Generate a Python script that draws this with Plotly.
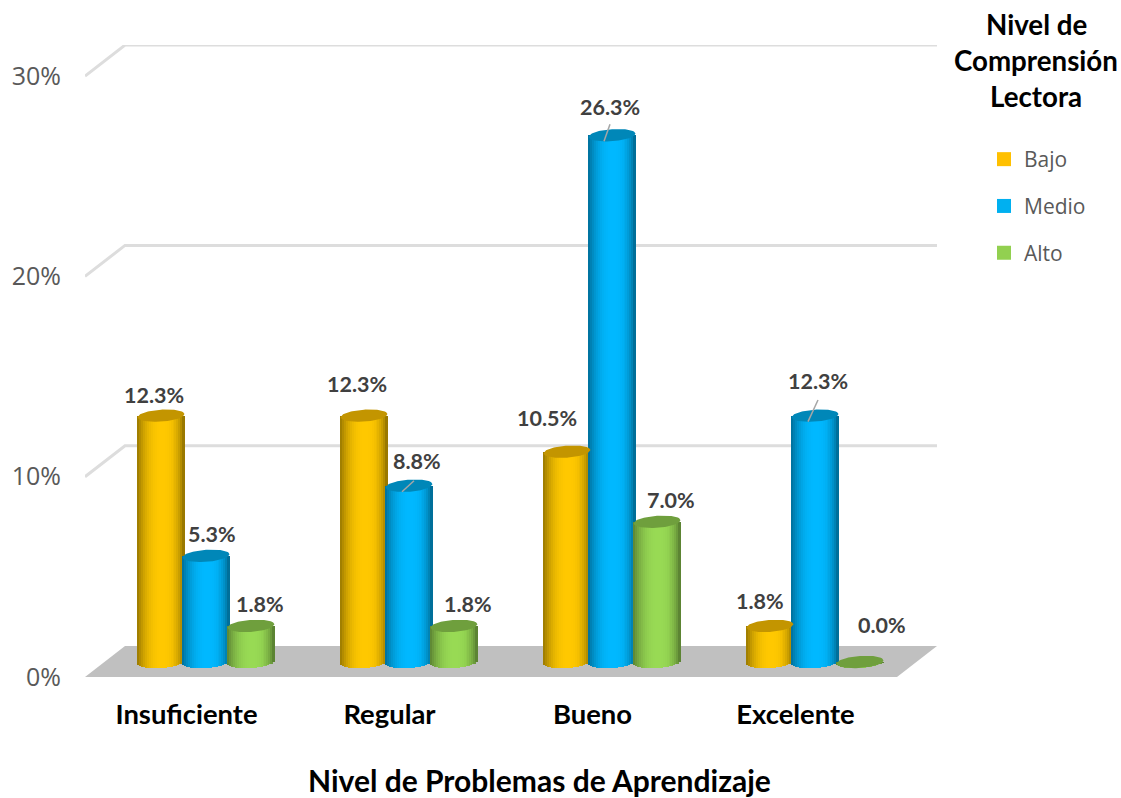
import plotly.graph_objects as go

categories = ["Insuficiente", "Regular", "Bueno", "Excelente"]
series_names = ["Bajo", "Medio", "Alto"]
bajo = [12.3, 12.3, 10.5, 1.8]
medio = [5.3, 8.8, 26.3, 12.3]
alto = [1.8, 1.8, 7.0, 0.0]
y_ticks = [0, 10, 20, 30]
y_tick_labels = ["0%", "10%", "20%", "30%"]

series_values = [bajo, medio, alto]
bright = [(255, 200, 0), (0, 184, 255), (152, 218, 84)]
top_colors = ["#C39500", "#0087B8", "#6F9F3D"]
legend_colors = ["#FFC000", "#00B0F0", "#92D050"]

W, H = 1121, 798
L, R, T, B = 85, 937, 45, 677
PX_X = 203.0
PX_Y = 20.03
DX = 40 / PX_X
DY = 31 / PX_Y
BASE = 15 / PX_Y
GROUP_SHIFT = 19.5 / PX_X
SERIES_STEP = 45 / PX_X
HALF_W = 23.5 / PX_X
RY = 6 / PX_Y
TILT = 1.6 / PX_Y
N = 24

# label offsets from the top of each cylinder, px (right, up)
label_shift = [
    [(-7, 21), (-7, 32), (-20, 34), (-10, 25)],
    [(6, 22), (8, 25), (-2, 28), (3, 35)],
    [(9, 22), (14, 22), (14, 22), (22, 37)],
]
# leader lines: (series, category, start px, end px) relative to the cylinder top
leaders = [
    (1, 1, (5, 5), (-7, -6)),
    (1, 2, (-2, 11), (-8, -6)),
    (1, 3, (3, 15.6), (-7, -6)),
]


def paper_x(px):
    return (px - L) / (R - L)


def paper_y(py):
    return (B - py) / (B - T)


def shade(rgb, u):
    a = abs(u - 0.05)
    f = 1 - 0.36 * a ** 2.4
    if u > 0:
        f -= 0.14 * u ** 6
    return "rgb(%d,%d,%d)" % tuple(round(c * f) for c in rgb)


fig = go.Figure()

# cylinder bodies: vertical strips, each a real bar
for s, vals in enumerate(series_values):
    xs = [i + GROUP_SHIFT + (s - 1) * SERIES_STEP for i in range(len(vals))]
    for k in range(N):
        u = (k + 0.5) / N * 2 - 1
        drop = RY * (1 - u * u) ** 0.5 - TILT * u
        fig.add_trace(go.Bar(
            x=[x + u * HALF_W for x in xs],
            y=[v + drop for v in vals],
            base=[BASE - drop] * len(vals),
            width=2 * HALF_W / N * 1.25,
            marker=dict(color=shade(bright[s], u), line=dict(width=0)),
            showlegend=False, hoverinfo="skip",
        ))

# cylinder tops
ELL = [i / 36 * 2 - 1 for i in range(37)]
for s, vals in enumerate(series_values):
    ex, ey = [], []
    for i, v in enumerate(vals):
        cx = i + GROUP_SHIFT + (s - 1) * SERIES_STEP
        cy = BASE + v
        upper = [(cx + u * HALF_W, cy + TILT * u + RY * (1 - u * u) ** 0.5) for u in ELL]
        lower = [(cx + u * HALF_W, cy + TILT * u - RY * (1 - u * u) ** 0.5) for u in reversed(ELL)]
        for px, py in upper + lower:
            ex.append(px)
            ey.append(py)
        ex.append(None)
        ey.append(None)
    fig.add_trace(go.Scatter(
        x=ex, y=ey, mode="lines", fill="toself", fillcolor=top_colors[s],
        line=dict(width=0, color=top_colors[s]), showlegend=False, hoverinfo="skip",
    ))

# leader lines
for s, i, a, b in leaders:
    cx = i + GROUP_SHIFT + (s - 1) * SERIES_STEP
    cy = BASE + series_values[s][i]
    fig.add_trace(go.Scatter(
        x=[cx + a[0] / PX_X, cx + b[0] / PX_X],
        y=[cy + a[1] / PX_Y, cy + b[1] / PX_Y],
        mode="lines", line=dict(color="#A6A6A6", width=1.5),
        showlegend=False, hoverinfo="skip",
    ))

# legend entries
for s, name in enumerate(series_names):
    fig.add_trace(go.Scatter(
        x=[None], y=[None], mode="markers", name=name, legendgroup=name,
        marker=dict(symbol="square", size=14, color=legend_colors[s], line=dict(width=0)),
    ))

# floor and walls
x0, x1 = -0.5, len(categories) - 0.5
shapes = [dict(
    type="path", xref="x", yref="y", layer="below",
    path=f"M {x0} 0 L {x0 + DX} {DY} L {x1 + DX} {DY} L {x1} 0 Z",
    fillcolor="#C0C0C0", line=dict(width=0),
)]
for t in y_ticks[1:]:
    shapes.append(dict(
        type="path", xref="x", yref="y", layer="below",
        path=f"M {x0} {t} L {x0 + DX} {t + DY} L {x1 + DX} {t + DY}",
        line=dict(color="#DDDDDD", width=3),
    ))

# value labels
annotations = []
for s, vals in enumerate(series_values):
    for i, v in enumerate(vals):
        cx = i + GROUP_SHIFT + (s - 1) * SERIES_STEP
        annotations.append(dict(
            x=cx, y=BASE + v, xref="x", yref="y", text=f"{v:.1f}%", showarrow=False,
            xshift=label_shift[s][i][0], yshift=label_shift[s][i][1],
            font=dict(family="Lato", size=21.5, color="#404040", weight="bold"),
        ))

# legend title and axis title
for text, y in [("Nivel de", 24), ("Comprensión", 60), ("Lectora", 96)]:
    annotations.append(dict(
        x=paper_x(1036), y=paper_y(y), xref="paper", yref="paper", text=text, showarrow=False,
        xanchor="center", yanchor="middle",
        font=dict(family="Lato", size=27.7, color="#000000", weight="bold"),
    ))
annotations.append(dict(
    x=paper_x(539), y=paper_y(780), xref="paper", yref="paper",
    text="Nivel de Problemas de Aprendizaje", showarrow=False,
    xanchor="center", yanchor="middle",
    font=dict(family="Lato", size=30, color="#000000", weight="bold"),
))

fig.update_layout(
    width=W, height=H,
    margin=dict(l=L, r=W - R, t=T, b=H - B, pad=0, autoexpand=False),
    paper_bgcolor="white", plot_bgcolor="white",
    barmode="overlay", bargap=0,
    shapes=shapes, annotations=annotations,
    showlegend=True,
    legend=dict(
        x=paper_x(984), y=paper_y(139), xanchor="left", yanchor="top",
        xref="paper", yref="paper", bgcolor="rgba(0,0,0,0)",
        font=dict(family="Open Sans", size=21, color="#595959"),
        tracegroupgap=16.5, itemwidth=30, traceorder="grouped",
    ),
    xaxis=dict(
        range=[x0, x1 + DX], tickmode="array", tickvals=list(range(len(categories))),
        ticktext=categories, ticks="outside", ticklen=13, tickcolor="rgba(0,0,0,0)",
        showgrid=False, zeroline=False, showline=False, fixedrange=True, automargin=False,
        tickfont=dict(family="Lato", size=27.4, color="#000000", weight="bold"),
    ),
    yaxis=dict(
        range=[0, (B - T) / PX_Y], tickmode="array", tickvals=y_ticks,
        ticktext=y_tick_labels, ticks="outside", ticklen=18, tickcolor="rgba(0,0,0,0)",
        showgrid=False, zeroline=False, showline=False, fixedrange=True, automargin=False,
        tickfont=dict(family="Open Sans", size=25, color="#595959"),
    ),
)

fig.write_html(
    "out.html",
    config={"displayModeBar": False},
    default_width=f"{W}px", default_height=f"{H}px",
    post_script="document.body.style.margin='0';document.documentElement.style.overflow='hidden';",
)
